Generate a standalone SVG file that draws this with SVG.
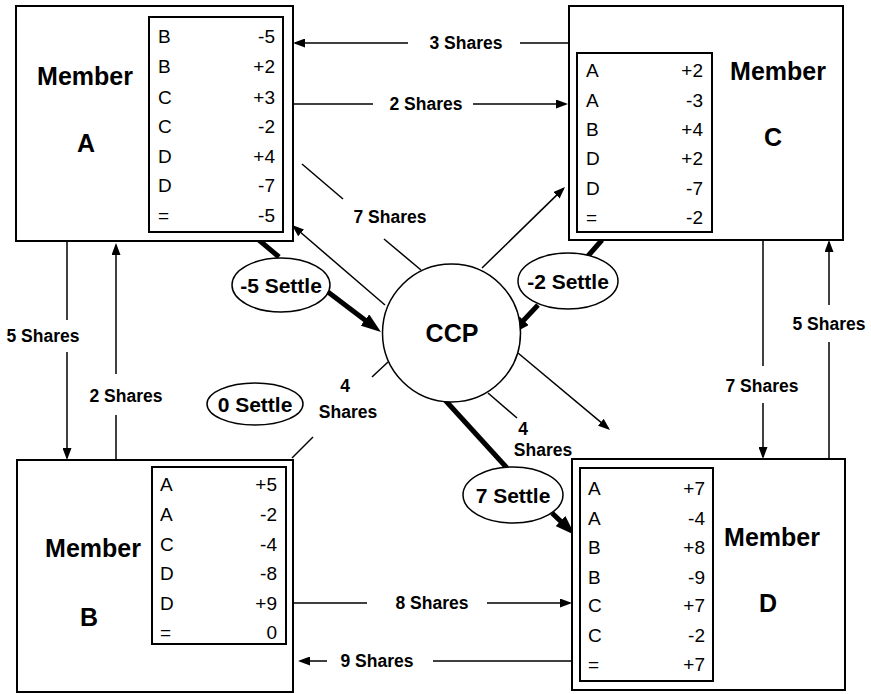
<svg xmlns="http://www.w3.org/2000/svg" width="871" height="694" viewBox="0 0 871 694">
<style>
.box{fill:#fff;stroke:#000;stroke-width:2}
.tbl{fill:none;stroke:#000;stroke-width:2}
.ln{fill:none;stroke:#000;stroke-width:1.5}
.thick{fill:none;stroke:#000;stroke-width:5}
.ell{fill:#fff;stroke:#000;stroke-width:1.5}
text{font-family:"Liberation Sans",Arial,sans-serif;fill:#000;dominant-baseline:central}
.mem{font-size:25px;font-weight:bold;text-anchor:middle}
.row{font-size:19px}
.num{font-size:19px;text-anchor:end}
.lab{font-size:17.5px;font-weight:bold;text-anchor:middle}
.set{font-size:21px;font-weight:bold;text-anchor:middle}
.ccp{font-size:25px;font-weight:bold;text-anchor:middle}
</style>
<defs>
<marker id="ah" markerUnits="userSpaceOnUse" markerWidth="12" markerHeight="9" refX="10" refY="4.5" orient="auto">
<path d="M0,0 L12,4.5 L0,9 z" fill="#000"/>
</marker>
<marker id="ahT" markerUnits="userSpaceOnUse" markerWidth="20" markerHeight="14" refX="4" refY="7" orient="auto">
<path d="M0,0 L20,7 L0,14 z" fill="#000"/>
</marker>
</defs>
<rect width="871" height="694" fill="#fff"/>

<g id="connectors">
<line class="ln" x1="569" y1="43" x2="520" y2="43"/>
<line class="ln" x1="408" y1="43" x2="295" y2="43" marker-end="url(#ah)"/>
<text class="lab" x="466" y="43">3 Shares</text>
<line class="ln" x1="293" y1="104" x2="373" y2="104"/>
<line class="ln" x1="473" y1="104" x2="566" y2="104" marker-end="url(#ah)"/>
<text class="lab" x="426" y="104">2 Shares</text>
<line class="ln" x1="302" y1="164" x2="343" y2="199"/>
<line class="ln" x1="384" y1="239" x2="421" y2="270"/>
<text class="lab" x="390" y="217">7 Shares</text>
<line class="ln" x1="385" y1="305" x2="293.5" y2="226.3" marker-end="url(#ah)"/>
<line class="ln" x1="482" y1="268" x2="563.6" y2="188.4" marker-end="url(#ah)"/>
<line class="ln" x1="518" y1="353" x2="608.5" y2="428.7" marker-end="url(#ah)"/>
<line class="ln" x1="488" y1="393" x2="517" y2="418"/>
<text class="lab" x="523" y="429">4</text>
<text class="lab" x="543" y="450">Shares</text>
<line class="ln" x1="388" y1="362" x2="372" y2="377"/>
<line class="ln" x1="313" y1="437" x2="292" y2="458"/>
<text class="lab" x="345" y="386">4</text>
<text class="lab" x="348" y="412">Shares</text>
<line class="ln" x1="67" y1="241" x2="67" y2="320"/>
<line class="ln" x1="67" y1="352" x2="67" y2="458" marker-end="url(#ah)"/>
<text class="lab" x="43" y="336">5 Shares</text>
<line class="ln" x1="116" y1="460" x2="116" y2="415"/>
<line class="ln" x1="116" y1="374" x2="116" y2="245" marker-end="url(#ah)"/>
<text class="lab" x="126" y="396">2 Shares</text>
<line class="ln" x1="763" y1="240" x2="763" y2="366"/>
<line class="ln" x1="763" y1="403" x2="763" y2="457" marker-end="url(#ah)"/>
<text class="lab" x="762" y="386">7 Shares</text>
<line class="ln" x1="829" y1="459" x2="829" y2="342"/>
<line class="ln" x1="829" y1="305" x2="829" y2="242" marker-end="url(#ah)"/>
<text class="lab" x="829" y="324">5 Shares</text>
<line class="ln" x1="293" y1="603" x2="367" y2="603"/>
<line class="ln" x1="487" y1="603" x2="570" y2="603" marker-end="url(#ah)"/>
<text class="lab" x="432" y="603">8 Shares</text>
<line class="ln" x1="572" y1="661" x2="433" y2="661"/>
<line class="ln" x1="327" y1="661" x2="300" y2="661" marker-end="url(#ah)"/>
<text class="lab" x="377" y="661">9 Shares</text>
<line class="thick" x1="254" y1="236" x2="279" y2="257"/>
<line class="thick" x1="328" y1="292" x2="368.2" y2="322.4" marker-end="url(#ahT)"/>
<line class="thick" x1="602" y1="240" x2="588" y2="256"/>
<line class="thick" x1="538" y1="305" x2="520.9" y2="323.3" marker-end="url(#ahT)"/>
<line class="thick" x1="445" y1="400" x2="507" y2="468"/>
<line class="thick" x1="552" y1="513" x2="563.4" y2="523.9" marker-end="url(#ahT)"/>
</g>

<g id="memberA">
<rect class="box" x="16" y="6" width="277" height="235"/>
<rect class="tbl" x="149" y="17" width="134" height="215"/>
<text class="mem" x="85" y="76">Member</text>
<text class="mem" x="86" y="143">A</text>
<text class="row" x="158" y="36">B</text><text class="num" x="275" y="36">-5</text>
<text class="row" x="158" y="66">B</text><text class="num" x="275" y="66">+2</text>
<text class="row" x="158" y="97">C</text><text class="num" x="275" y="97">+3</text>
<text class="row" x="158" y="126">C</text><text class="num" x="275" y="126">-2</text>
<text class="row" x="158" y="156">D</text><text class="num" x="275" y="156">+4</text>
<text class="row" x="158" y="185">D</text><text class="num" x="275" y="185">-7</text>
<text class="row" x="158" y="215">=</text><text class="num" x="275" y="215">-5</text>
</g>

<g id="memberC">
<rect class="box" x="569" y="6" width="274" height="234"/>
<rect class="tbl" x="577" y="53" width="135" height="179"/>
<text class="mem" x="778" y="71">Member</text>
<text class="mem" x="773" y="137">C</text>
<text class="row" x="586" y="70">A</text><text class="num" x="703" y="70">+2</text>
<text class="row" x="586" y="100">A</text><text class="num" x="703" y="100">-3</text>
<text class="row" x="586" y="129">B</text><text class="num" x="703" y="129">+4</text>
<text class="row" x="586" y="158">D</text><text class="num" x="703" y="158">+2</text>
<text class="row" x="586" y="188">D</text><text class="num" x="703" y="188">-7</text>
<text class="row" x="586" y="217">=</text><text class="num" x="703" y="217">-2</text>
</g>

<g id="memberB">
<rect class="box" x="17" y="460" width="276" height="232"/>
<rect class="tbl" x="152" y="467" width="134" height="177"/>
<text class="mem" x="93" y="548">Member</text>
<text class="mem" x="89" y="617">B</text>
<text class="row" x="160" y="484">A</text><text class="num" x="277" y="484">+5</text>
<text class="row" x="160" y="514">A</text><text class="num" x="277" y="514">-2</text>
<text class="row" x="160" y="544">C</text><text class="num" x="277" y="544">-4</text>
<text class="row" x="160" y="573">D</text><text class="num" x="277" y="573">-8</text>
<text class="row" x="160" y="603">D</text><text class="num" x="277" y="603">+9</text>
<text class="row" x="160" y="632">=</text><text class="num" x="277" y="632">0</text>
</g>

<g id="memberD">
<rect class="box" x="572" y="459" width="273" height="231"/>
<rect class="tbl" x="580" y="468" width="133" height="213"/>
<text class="mem" x="772" y="537">Member</text>
<text class="mem" x="768" y="603">D</text>
<text class="row" x="588" y="488">A</text><text class="num" x="705" y="488">+7</text>
<text class="row" x="588" y="518">A</text><text class="num" x="705" y="518">-4</text>
<text class="row" x="588" y="547">B</text><text class="num" x="705" y="547">+8</text>
<text class="row" x="588" y="577">B</text><text class="num" x="705" y="577">-9</text>
<text class="row" x="588" y="605">C</text><text class="num" x="705" y="605">+7</text>
<text class="row" x="588" y="635">C</text><text class="num" x="705" y="635">-2</text>
<text class="row" x="588" y="664">=</text><text class="num" x="705" y="664">+7</text>
</g>

<g id="ccp">
<circle class="ell" cx="451.5" cy="333" r="69"/>
<text class="ccp" x="452" y="333">CCP</text>
</g>

<g id="settleA">
<ellipse class="ell" cx="281" cy="285" rx="49" ry="27"/>
<text class="set" x="281" y="285">-5 Settle</text>
</g>
<g id="settleC">
<ellipse class="ell" cx="568" cy="281" rx="50" ry="28"/>
<text class="set" x="568" y="281">-2 Settle</text>
</g>
<g id="settleB">
<ellipse class="ell" cx="255" cy="404" rx="48" ry="21"/>
<text class="set" x="255" y="404">0 Settle</text>
</g>
<g id="settleD">
<ellipse class="ell" cx="513" cy="495" rx="50" ry="28"/>
<text class="set" x="513" y="495">7 Settle</text>
</g>
</svg>
